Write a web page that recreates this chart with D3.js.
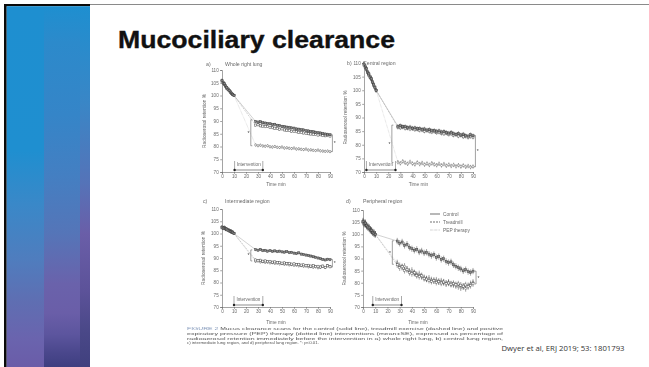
<!DOCTYPE html>
<html>
<head>
<meta charset="utf-8">
<script src="https://cdn.jsdelivr.net/npm/d3@7"></script>
<style>
  html, body { margin: 0; padding: 0; background: #fff; }
  svg { display: block; }
</style>
</head>
<body>
<script>
// ---- data ----------------------------------------------------------------
const xTicks = [0, 10, 20, 30, 40, 50, 60, 70, 80, 90];
const yTicks = [70, 75, 80, 85, 90, 95, 100, 105, 110];
const seriesNames = ["Control", "Treadmill", "PEP therapy"];
const panelLetters = ["a)", "b)", "c)", "d)"];
const panelTitles = ["Whole right lung", "Central region", "Intermediate region", "Peripheral region"];

// minutes before the intervention
const preTimes = [0, 1, 2, 3, 4, 5, 6, 7, 8, 9, 10];
// minutes after the intervention
const postTimes = [28, 30, 32, 34, 36, 38, 40, 42, 44, 46, 48, 50, 52, 54, 56, 58,
                   60, 62, 64, 66, 68, 70, 72, 74, 76, 78, 80, 82, 84, 86, 88, 90];

// a) whole right lung
const preA = [
  [105.8, 104.9, 104.6, 103.7, 103.2, 102.4, 102.0, 101.3, 100.9, 100.4, 100.0],
  [105.4, 105.1, 104.2, 103.9, 102.9, 102.6, 101.8, 101.5, 100.8, 100.5, 100.0],
  [106.0, 104.7, 104.4, 103.4, 103.1, 102.2, 102.1, 101.2, 101.0, 100.3, 100.0]
];
const postA = [
  [89.8, 89.6, 89.7, 89.3, 89.2, 89.0, 88.9, 88.6, 88.7, 88.3, 88.2, 87.9, 87.8, 87.6, 87.5, 87.3,
   87.2, 86.9, 86.8, 86.6, 86.5, 86.2, 86.1, 85.9, 85.8, 85.6, 85.4, 85.3, 85.1, 84.9, 84.8, 84.6],
  [88.4, 88.5, 88.1, 88.0, 87.8, 87.9, 87.5, 87.4, 87.2, 87.1, 86.8, 86.9, 86.5, 86.4, 86.3, 86.0,
   85.9, 85.8, 85.6, 85.5, 85.3, 85.2, 85.0, 84.9, 84.8, 84.7, 84.5, 84.6, 84.3, 84.2, 84.3, 84.1],
  [80.6, 80.3, 80.5, 80.2, 80.1, 80.3, 79.9, 79.8, 80.0, 79.7, 79.6, 79.8, 79.4, 79.5, 79.3, 79.2,
   79.4, 79.0, 79.1, 78.9, 78.8, 79.0, 78.6, 78.7, 78.5, 78.4, 78.6, 78.3, 78.2, 78.1, 78.2, 78.0]
];
const seA = [0.6, 0.6, 0.6];

// b) central region
const preB = [
  [109.6, 108.4, 107.9, 106.6, 106.0, 104.8, 104.2, 103.0, 102.1, 101.0, 100.0],
  [109.2, 108.7, 107.5, 106.9, 105.6, 105.1, 103.9, 103.3, 101.8, 101.2, 100.0],
  [109.8, 108.2, 108.1, 106.4, 106.2, 104.6, 104.4, 102.8, 102.3, 100.8, 100.0]
];
const postB = [
  [86.8, 87.0, 86.6, 86.7, 86.3, 86.5, 86.1, 86.2, 85.9, 86.0, 85.7, 85.8, 85.4, 85.6, 85.2, 85.3,
   85.0, 85.1, 84.7, 84.9, 84.5, 84.3, 84.6, 84.1, 83.8, 84.2, 83.6, 83.9, 83.4, 83.2, 83.7, 83.3],
  [86.4, 86.2, 86.5, 86.0, 86.1, 85.8, 85.9, 85.5, 85.7, 85.3, 85.4, 85.0, 85.2, 84.9, 84.7, 84.9,
   84.4, 84.6, 84.2, 84.0, 84.3, 83.8, 84.0, 83.5, 83.7, 83.2, 83.5, 82.9, 83.1, 82.7, 83.0, 82.8],
  [73.6, 73.2, 73.9, 73.4, 73.0, 73.7, 73.1, 72.8, 73.5, 72.9, 73.3, 72.7, 73.1, 72.6, 73.2, 72.8,
   72.5, 73.0, 72.4, 72.9, 72.3, 72.7, 72.2, 72.6, 72.1, 72.5, 72.0, 72.4, 71.9, 72.2, 71.8, 72.0]
];
const seB = [0.8, 0.8, 0.8];

// c) intermediate region
const preC = [
  [102.6, 102.2, 102.4, 101.9, 101.8, 101.4, 101.2, 100.9, 100.7, 100.4, 100.0],
  [102.3, 102.5, 102.0, 102.1, 101.5, 101.6, 101.0, 101.1, 100.5, 100.6, 100.0],
  [102.8, 102.0, 102.6, 101.7, 101.9, 101.2, 101.3, 100.8, 100.9, 100.3, 100.0]
];
const postC = [
  [93.4, 93.2, 93.5, 93.0, 93.1, 92.8, 93.0, 92.7, 92.9, 92.6, 92.8, 92.5, 92.4, 92.6, 92.2, 92.3,
   92.0, 91.8, 92.1, 91.6, 91.4, 91.2, 91.0, 90.8, 90.5, 90.3, 90.0, 89.7, 89.4, 89.2, 89.5, 89.3],
  [89.2, 88.9, 89.1, 88.7, 88.8, 88.5, 88.6, 88.3, 88.4, 88.1, 88.2, 87.9, 88.0, 87.7, 87.8, 87.5,
   87.6, 87.3, 87.4, 87.1, 87.2, 86.9, 87.0, 86.7, 86.8, 86.5, 86.6, 86.3, 86.7, 86.2, 86.8, 86.4],
  [88.6, 88.8, 88.4, 88.5, 88.2, 88.3, 88.0, 88.1, 87.8, 87.9, 87.6, 87.7, 87.4, 87.5, 87.2, 87.3,
   87.0, 87.1, 86.8, 86.9, 86.6, 86.7, 86.4, 86.5, 86.2, 86.4, 86.0, 86.3, 86.6, 86.1, 86.9, 86.5]
];
const seC = [0.6, 0.6, 0.6];

// d) peripheral region
const preD = [
  [105.2, 104.4, 104.6, 103.5, 103.0, 102.6, 101.8, 101.5, 100.7, 100.4, 100.0],
  [104.8, 104.9, 103.9, 103.8, 102.7, 102.9, 101.5, 101.7, 100.6, 100.8, 100.0],
  [105.5, 104.1, 104.8, 103.2, 103.3, 102.3, 102.0, 101.2, 101.0, 100.2, 100.0]
];
const postD = [
  [97.2, 96.3, 96.8, 95.4, 95.9, 94.6, 94.0, 93.4, 93.8, 92.7, 93.1, 92.3, 92.6, 91.8, 91.2, 91.6,
   90.4, 90.8, 89.6, 89.9, 88.8, 88.3, 88.6, 87.4, 86.8, 86.2, 85.7, 84.9, 85.4, 84.6, 84.2, 84.8],
  [87.4, 86.2, 86.6, 85.1, 85.5, 84.2, 83.8, 84.1, 83.0, 82.6, 82.9, 81.8, 81.5, 81.0, 80.6, 80.9,
   80.2, 80.5, 79.9, 80.3, 79.6, 79.9, 79.4, 79.7, 79.2, 79.5, 79.0, 78.6, 79.1, 78.4, 78.9, 79.6],
  [88.2, 87.0, 86.4, 86.8, 85.6, 84.8, 85.1, 83.9, 83.4, 83.7, 82.5, 82.1, 81.6, 81.9, 81.2, 80.8,
   81.1, 80.4, 80.7, 80.1, 79.8, 80.2, 79.5, 79.2, 78.8, 78.4, 77.9, 78.3, 77.6, 78.8, 79.6, 80.2]
];
const seD = [1.3, 1.3, 1.3];

// significance brackets: [minute, upper %, lower %]
const bracketsA = [[24, 90.5, 80.3], [92, 84.6, 78.0]];
const bracketsB = [[23, 87.2, 73.5], [92, 83.4, 71.9]];
const bracketsC = [[24, 93.3, 88.8], [92, 89.4, 86.3]];
const bracketsD = [[24, 97.3, 87.6], [92.5, 84.8, 79.5]];

// intervention period marked under each panel: [start, end] minutes
const interventionA = [10.5, 34];
const interventionB = [2, 26];
const interventionC = [10, 34];
const interventionD = [8, 31.5];

const captionLines = [
  "FIGURE 2 Mucus clearance scans for the control (solid line), treadmill exercise (dashed line) and positive",
  "expiratory pressure (PEP) therapy (dotted line) interventions (mean\u00b1SE), expressed as percentage of",
  "radioaerosol retention immediately before the intervention in a) whole right lung, b) central lung region,",
  "c) intermediate lung region, and d) peripheral lung region. *: p<0.01."
];

const panels = [
  { pre: preA, post: postA, se: seA, brackets: bracketsA, interv: interventionA },
  { pre: preB, post: postB, se: seB, brackets: bracketsB, interv: interventionB },
  { pre: preC, post: postC, se: seC, brackets: bracketsC, interv: interventionC },
  { pre: preD, post: postD, se: seD, brackets: bracketsD, interv: interventionD }
];

// ---- layout --------------------------------------------------------------
const W = 649, H = 367;
const frames = [
  { x: [222, 330], y: [172, 70],  titleY: 66,  letterX: 206, titleX: 225, ylabX: 206, xlabY: 185.5 },
  { x: [364, 473], y: [172, 63],  titleY: 65,  letterX: 347, titleX: 363, ylabX: 347, xlabY: 186 },
  { x: [222, 330], y: [307, 209], titleY: 203, letterX: 203, titleX: 225, ylabX: 205, xlabY: 324 },
  { x: [363, 473], y: [307, 210], titleY: 203, letterX: 346, titleX: 363, ylabX: 346, xlabY: 324 }
];

const seriesStyle = [
  { stroke: "#444", dash: null,      markFill: "#8a8a8a", markStroke: "#333", shape: "rect" },
  { stroke: "#555", dash: "2,1",     markFill: "#fff",    markStroke: "#3a3a3a", shape: "rect" },
  { stroke: "#999", dash: "0.5,0.8", markFill: "#fff",    markStroke: "#444", shape: "circle" }
];

const svg = d3.select("body").append("svg")
  .attr("width", W).attr("height", H)
  .style("font-family", "'Liberation Sans', Arial, sans-serif");

const defs = svg.append("defs");
function verticalGradient(id, stops) {
  const g = defs.append("linearGradient").attr("id", id)
    .attr("x1", 0).attr("y1", 0).attr("x2", 0).attr("y2", 1);
  stops.forEach(([o, c]) => g.append("stop").attr("offset", o).attr("stop-color", c));
}
verticalGradient("band1", [[0, "#1e8fd0"], [0.4, "#1f8fd0"], [0.55, "#3a88c8"], [0.7, "#4f7dbe"],
                           [0.82, "#5f6eb2"], [0.92, "#6a64ae"], [1, "#6a5ca8"]]);
verticalGradient("band2", [[0, "#1e8fd0"], [0.1, "#2c8acb"], [0.3, "#3585c8"], [0.47, "#447fc2"],
                           [0.63, "#5575b8"], [0.77, "#6a62ab"], [0.85, "#6a5ea8"], [0.91, "#5c559e"],
                           [0.96, "#4a478c"], [1, "#3e3e80"]]);
verticalGradient("band3", [[0, "#1e8fd0"], [0.27, "#3a86c6"], [0.49, "#5573b8"], [0.63, "#6a5ea8"],
                           [0.79, "#5c5299"], [0.9, "#4a4888"], [1, "#40407e"]]);
defs.append("filter").attr("id", "soft")
  .attr("x", "-5%").attr("y", "-5%").attr("width", "110%").attr("height", "110%")
  .append("feGaussianBlur").attr("stdDeviation", 0.7);

// ---- slide frame ---------------------------------------------------------
svg.append("rect").attr("width", W).attr("height", H).attr("fill", "#fff");
svg.append("rect").attr("x", 90).attr("y", 4).attr("width", W - 90).attr("height", 1).attr("fill", "#8a8a8a");
svg.append("rect").attr("x", 4).attr("y", 4).attr("width", 86).attr("height", 2.2).attr("fill", "#0a0a0a");
svg.append("rect").attr("x", 4).attr("y", 4).attr("width", 2.7).attr("height", H - 4).attr("fill", "#0a0a0a");
svg.append("rect").attr("x", 6.7).attr("y", 6.2).attr("width", 37.3).attr("height", H - 6.2).attr("fill", "url(#band1)");
svg.append("rect").attr("x", 44).attr("y", 6.2).attr("width", 36).attr("height", H - 6.2).attr("fill", "url(#band2)");
svg.append("rect").attr("x", 80).attr("y", 6.2).attr("width", 10).attr("height", H - 6.2).attr("fill", "url(#band3)");

svg.append("text")
  .attr("x", 118).attr("y", 47.5)
  .attr("font-size", 23).attr("font-weight", "bold").attr("fill", "#111")
  .attr("stroke", "#111").attr("stroke-width", 0.35)
  .attr("textLength", 277).attr("lengthAdjust", "spacingAndGlyphs")
  .text("Mucociliary clearance");

svg.append("text")
  .attr("x", 501.5).attr("y", 350.5)
  .attr("font-size", 7).attr("fill", "#333")
  .attr("font-family", "'Open Sans', 'Liberation Sans', sans-serif")
  .attr("textLength", 123).attr("lengthAdjust", "spacingAndGlyphs")
  .text("Dwyer et al, ERJ 2019; 53: 1801793");

// ---- figure --------------------------------------------------------------
const fig = svg.append("g").attr("filter", "url(#soft)");
const textCol = "#6a6a6a", axisCol = "#666";

panels.forEach((p, i) => {
  const f = frames[i];
  const x = d3.scaleLinear().domain([0, 90]).range(f.x);
  const y = d3.scaleLinear().domain([70, 110]).range(f.y);
  const g = fig.append("g");

  // axes
  const ax = g.append("g").attr("transform", `translate(${f.x[0]},0)`)
    .call(d3.axisLeft(y).tickValues(yTicks).tickSize(1.8).tickPadding(1.5));
  const bx = g.append("g").attr("transform", `translate(0,${f.y[0]})`)
    .call(d3.axisBottom(x).tickValues(xTicks).tickSize(1.8).tickPadding(1.2));
  [ax, bx].forEach(a => {
    a.attr("font-size", 4.6).attr("font-family", "'Liberation Sans', Arial, sans-serif");
    a.selectAll("path,line").attr("stroke", axisCol).attr("stroke-width", 0.6);
    a.selectAll("text").attr("fill", textCol);
  });

  g.append("text").attr("x", f.letterX).attr("y", f.titleY)
    .attr("font-size", 5.2).attr("fill", textCol).text(panelLetters[i]);
  g.append("text").attr("x", f.titleX).attr("y", f.titleY)
    .attr("font-size", 5.2).attr("fill", textCol).text(panelTitles[i]);
  g.append("text")
    .attr("transform", `translate(${f.ylabX},${(f.y[0] + f.y[1]) / 2}) rotate(-90)`)
    .attr("text-anchor", "middle").attr("font-size", 4.8).attr("fill", textCol)
    .text("Radioaerosol retention %");
  g.append("text").attr("x", (f.x[0] + f.x[1]) / 2).attr("y", f.xlabY)
    .attr("text-anchor", "middle").attr("font-size", 4.8).attr("fill", textCol)
    .text("Time min");

  // intervention marker
  const iy = f.y[0] - 2, x1 = x(p.interv[0]), x2 = x(p.interv[1]);
  g.append("line").attr("x1", x1).attr("x2", x2).attr("y1", iy).attr("y2", iy)
    .attr("stroke", "#444").attr("stroke-width", 0.6);
  [x1, x2].forEach(xx => {
    g.append("line").attr("x1", xx).attr("x2", xx).attr("y1", iy).attr("y2", iy - 9)
      .attr("stroke", "#555").attr("stroke-width", 0.5);
    g.append("circle").attr("cx", xx).attr("cy", iy).attr("r", 1.2).attr("fill", "#222");
  });
  g.append("text").attr("x", (x1 + x2) / 2).attr("y", iy - 4)
    .attr("text-anchor", "middle").attr("font-size", 4.6).attr("fill", textCol)
    .text("Intervention");

  // series (drawn PEP first so control sits on top)
  [2, 1, 0].forEach(s => {
    const st = seriesStyle[s];
    const pre = preTimes.map((t, k) => ({ t, v: p.pre[s][k] }));
    const post = postTimes.map((t, k) => ({ t, v: p.post[s][k] }));
    const line = d3.line().x(d => x(d.t)).y(d => y(d.v));

    // bridge across the intervention
    g.append("path").attr("d", line([pre[pre.length - 1], post[0]]))
      .attr("fill", "none").attr("stroke", "#9a9a9a").attr("stroke-width", 0.45)
      .attr("stroke-dasharray", st.dash);
    [pre, post].forEach(seg => {
      g.append("path").attr("d", line(seg)).attr("fill", "none")
        .attr("stroke", st.stroke).attr("stroke-width", 0.45).attr("stroke-dasharray", st.dash);
    });

    const pts = pre.concat(post);
    const se = p.se[s];
    g.append("g").selectAll("line").data(pts).join("line")
      .attr("x1", d => x(d.t)).attr("x2", d => x(d.t))
      .attr("y1", d => y(d.v + se)).attr("y2", d => y(d.v - se))
      .attr("stroke", "#3a3a3a").attr("stroke-width", 0.45);
    const mk = g.append("g");
    if (st.shape === "rect") {
      mk.selectAll("rect").data(pts).join("rect")
        .attr("x", d => x(d.t) - 1.05).attr("y", d => y(d.v) - 1.05)
        .attr("width", 2.1).attr("height", 2.1)
        .attr("fill", st.markFill).attr("stroke", st.markStroke).attr("stroke-width", 0.4);
    } else {
      mk.selectAll("circle").data(pts).join("circle")
        .attr("cx", d => x(d.t)).attr("cy", d => y(d.v)).attr("r", 1.05)
        .attr("fill", st.markFill).attr("stroke", st.markStroke).attr("stroke-width", 0.4);
    }
  });

  // significance brackets
  p.brackets.forEach(([t, hi, lo], k) => {
    const bx0 = x(t), dir = k === 0 ? 1.5 : -1.5;
    g.append("path")
      .attr("d", `M${bx0 + dir},${y(hi)}H${bx0}V${y(lo)}H${bx0 + dir}`)
      .attr("fill", "none").attr("stroke", "#444").attr("stroke-width", 0.5);
    g.append("text").attr("x", bx0 - dir * 1.6).attr("y", (y(hi) + y(lo)) / 2 + 2)
      .attr("text-anchor", "middle").attr("font-size", 5).attr("fill", "#444").text("*");
  });
});

// legend in the peripheral-region panel
const lg = fig.append("g");
seriesNames.forEach((name, s) => {
  const st = seriesStyle[s], ly = 214 + s * 8;
  lg.append("line").attr("x1", 430).attr("x2", 440).attr("y1", ly).attr("y2", ly)
    .attr("stroke", s === 2 ? "#888" : "#333").attr("stroke-width", 0.7)
    .attr("stroke-dasharray", st.dash);
  lg.append("text").attr("x", 443).attr("y", ly + 1.6)
    .attr("font-size", 4.8).attr("fill", textCol).text(name);
});

// caption
captionLines.forEach((ln, k) => {
  const t = fig.append("text").attr("x", 187).attr("y", 330 + k * 4.8)
    .attr("font-size", 4.4).attr("fill", "#555");
  if (k < 3) t.attr("textLength", 316).attr("lengthAdjust", "spacingAndGlyphs");
  if (k === 0) {
    t.append("tspan").attr("fill", "#7f95b8").text("FIGURE 2 ");
    t.append("tspan").text(ln.slice(9));
  } else {
    t.text(ln);
  }
});
</script>
</body>
</html>
